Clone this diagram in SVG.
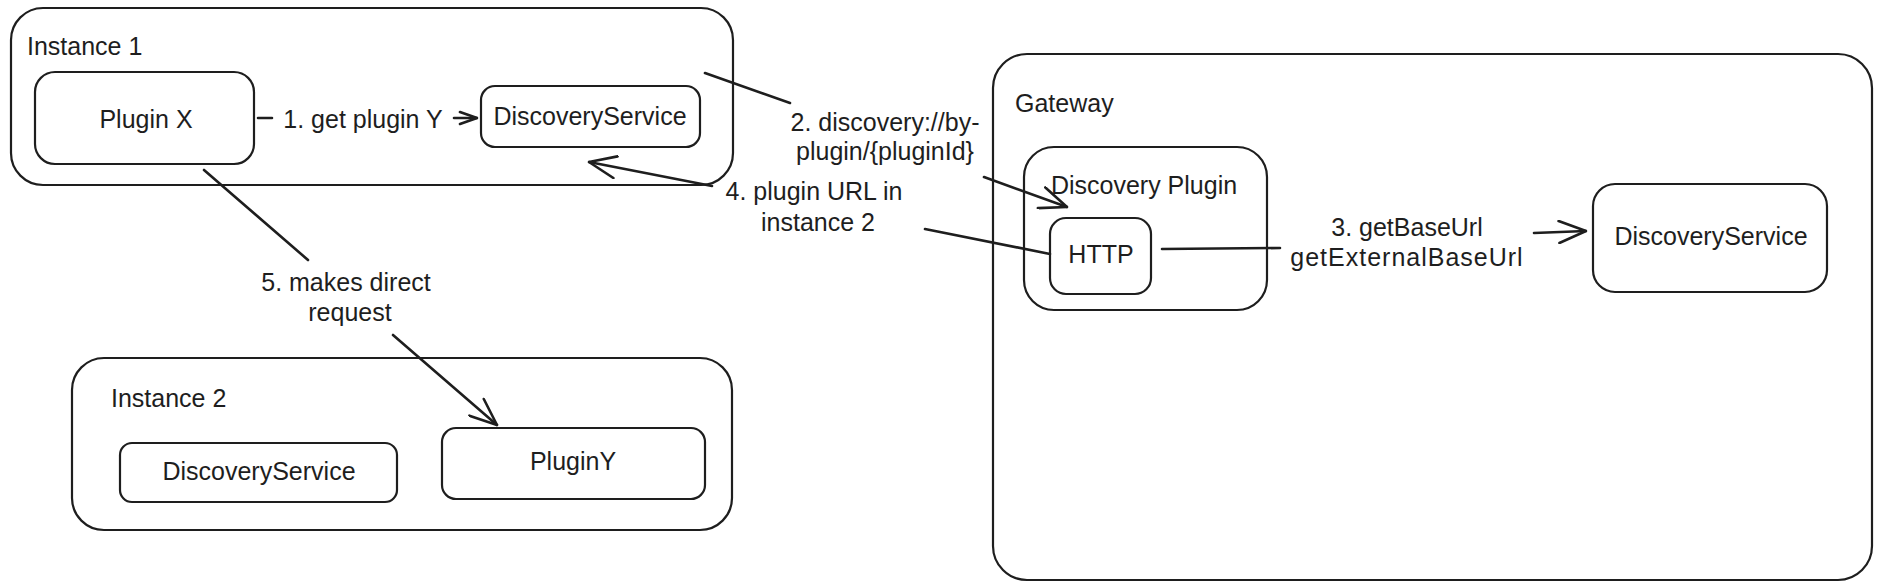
<svg xmlns="http://www.w3.org/2000/svg" width="1886" height="588" viewBox="0 0 1886 588">
<defs>
<style>
.box{fill:none;stroke:#1e1e1e;stroke-width:2.2}
.t{font-family:"Liberation Sans",Arial,sans-serif;font-size:25px;fill:#1e1e1e}
.m{text-anchor:middle}
.c{fill:none;stroke:#1e1e1e;stroke-width:2.6;stroke-linecap:round}
</style>
<marker id="ah" viewBox="0 0 30 24" refX="29" refY="12" markerWidth="30" markerHeight="24" markerUnits="userSpaceOnUse" orient="auto">
<path d="M2,1 L29,12 L2,23" fill="none" stroke="#1e1e1e" stroke-width="2.6" stroke-linecap="round" stroke-linejoin="round"/>
</marker>
<marker id="ahs" viewBox="0 0 20 16" refX="19" refY="8" markerWidth="20" markerHeight="16" markerUnits="userSpaceOnUse" orient="auto">
<path d="M2,2 L19,8 L2,14" fill="none" stroke="#1e1e1e" stroke-width="2.6" stroke-linecap="round" stroke-linejoin="round"/>
</marker>
</defs>
<rect width="1886" height="588" fill="#ffffff"/>

<g id="instance1">
<rect class="box" x="11" y="8" width="722" height="177" rx="32"/>
<text class="t" x="27" y="55">Instance 1</text>
</g>
<g id="pluginX">
<rect class="box" x="35" y="72" width="219" height="92" rx="20"/>
<text class="t m" x="146" y="128">Plugin X</text>
</g>
<g id="discovery1">
<rect class="box" x="481" y="86" width="219" height="61" rx="14"/>
<text class="t m" x="590" y="125">DiscoveryService</text>
</g>

<g id="gateway">
<rect class="box" x="993" y="54" width="879" height="526" rx="34"/>
<text class="t" x="1015" y="112">Gateway</text>
</g>
<g id="discoveryPlugin">
<rect class="box" x="1024" y="147" width="243" height="163" rx="30"/>
<text class="t m" x="1144" y="194">Discovery Plugin</text>
</g>
<g id="http">
<rect class="box" x="1050" y="218" width="101" height="76" rx="16"/>
<text class="t m" x="1101" y="263">HTTP</text>
</g>
<g id="discoveryGw">
<rect class="box" x="1593" y="184" width="234" height="108" rx="22"/>
<text class="t m" x="1711" y="245">DiscoveryService</text>
</g>

<g id="instance2">
<rect class="box" x="72" y="358" width="660" height="172" rx="32"/>
<text class="t" x="111" y="407">Instance 2</text>
</g>
<g id="discovery2">
<rect class="box" x="120" y="443" width="277" height="59" rx="12"/>
<text class="t m" x="259" y="480">DiscoveryService</text>
</g>
<g id="pluginY">
<rect class="box" x="442" y="428" width="263" height="71" rx="14"/>
<text class="t m" x="573" y="470">PluginY</text>
</g>

<g id="connectors">
<path class="c" d="M258,118 L272,118 M454,118 L477,118" marker-end="url(#ahs)"/>
<path class="c" d="M705,73 L790,103 M984,177 L1067,207" marker-end="url(#ah)"/>
<path class="c" d="M1162,249 L1280,248 M1534,233 L1586,231" marker-end="url(#ah)"/>
<path class="c" d="M1050,254 L925,229 M712,186 L589,162" marker-end="url(#ah)"/>
<path class="c" d="M204,170 L308,260 M393,335 L497,425" marker-end="url(#ah)"/>
</g>

<g id="labels">
<text class="t m" x="363" y="128">1. get plugin Y</text>
<text class="t m" x="885" y="131">2. discovery://by-</text>
<text class="t m" x="885" y="160">plugin/{pluginId}</text>
<text class="t m" x="1407" y="236">3. getBaseUrl</text>
<text class="t m" x="1407" y="266" letter-spacing="1">getExternalBaseUrl</text>
<text class="t m" x="814" y="200">4. plugin URL in</text>
<text class="t m" x="818" y="231">instance 2</text>
<text class="t m" x="346" y="291">5. makes direct</text>
<text class="t m" x="350" y="321">request</text>
</g>
</svg>
